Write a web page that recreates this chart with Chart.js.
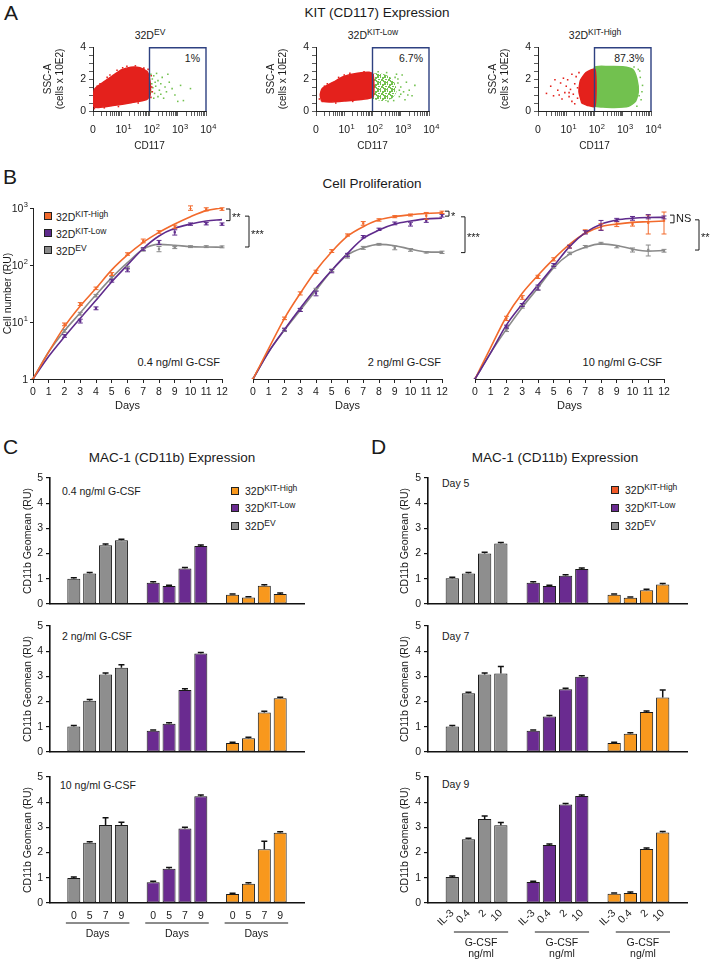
<!DOCTYPE html>
<html lang="en">
<head>
<meta charset="UTF-8">
<title>KIT expression, proliferation and MAC-1 expression</title>
<script src="https://cdn.jsdelivr.net/npm/chart.js@4"></script>
<style>
  body { margin: 0; background: #fff; font-family: Arial, "Liberation Sans", sans-serif; color: #1a1a1a; }
  #fig { position: relative; width: 713px; height: 962px; overflow: hidden; }
  canvas { position: absolute; }
  .t { position: absolute; white-space: nowrap; font-size: 10.5px; line-height: 1; }
  .c { transform: translate(-50%, -50%); }
  .lc { transform: translate(0, -50%); }
  .rc { transform: translate(-100%, -50%); }
  .letter { font-size: 21px; }
  .title { font-size: 13.5px; }
  .lg { font-size: 10.5px; }
  sup { font-size: 8.5px; vertical-align: 4px; line-height: 0; }
  .sw { position: absolute; width: 6px; height: 6px; border: 1px solid #222; }
</style>
</head>
<body>
<div id="fig">
  <!-- A -->
  <div class="t letter" style="left:4px;top:2px">A</div>
  <div class="t title c" style="left:377px;top:13px">KIT (CD117) Expression</div>
  <div class="t c" style="left:150px;top:35px">32D<sup>EV</sup></div>
  <div class="t c" style="left:373px;top:35px">32D<sup>KIT-Low</sup></div>
  <div class="t c" style="left:595px;top:35px">32D<sup>KIT-High</sup></div>
  <div class="t rc" style="left:200px;top:58px">1%</div>
  <div class="t rc" style="left:423px;top:58px">6.7%</div>
  <div class="t rc" style="left:644px;top:58px">87.3%</div>

  <!-- B -->
  <div class="t letter" style="left:3px;top:166px">B</div>
  <div class="t title c" style="left:372px;top:184px">Cell Proliferation</div>
  <div class="sw" style="left:44px;top:212px;background:#f26a2c"></div>
  <div class="sw" style="left:44px;top:229px;background:#5f2b8c"></div>
  <div class="sw" style="left:44px;top:246px;background:#8a8a8a"></div>
  <div class="t lg lc" style="left:56px;top:217px">32D<sup>KIT-High</sup></div>
  <div class="t lg lc" style="left:56px;top:234px">32D<sup>KIT-Low</sup></div>
  <div class="t lg lc" style="left:56px;top:251px">32D<sup>EV</sup></div>
  <div class="t rc" style="left:220px;top:362px;font-size:11px">0.4 ng/ml G-CSF</div>
  <div class="t rc" style="left:441px;top:362px;font-size:11px">2 ng/ml G-CSF</div>
  <div class="t rc" style="left:662px;top:362px;font-size:11px">10 ng/ml G-CSF</div>

  <!-- C -->
  <div class="t letter" style="left:3px;top:436px">C</div>
  <div class="t title c" style="left:172px;top:458px">MAC-1 (CD11b) Expression</div>
  <div class="t lc" style="left:62px;top:491px">0.4 ng/ml G-CSF</div>
  <div class="t lc" style="left:62px;top:636px">2 ng/ml G-CSF</div>
  <div class="t lc" style="left:60px;top:785px">10 ng/ml G-CSF</div>
  <div class="sw" style="left:231px;top:487px;background:#f8981d"></div>
  <div class="sw" style="left:231px;top:504px;background:#6a2b90"></div>
  <div class="sw" style="left:231px;top:522px;background:#8e8e8e"></div>
  <div class="t lg lc" style="left:245px;top:491px">32D<sup>KIT-High</sup></div>
  <div class="t lg lc" style="left:245px;top:508px">32D<sup>KIT-Low</sup></div>
  <div class="t lg lc" style="left:245px;top:526px">32D<sup>EV</sup></div>

  <!-- D -->
  <div class="t letter" style="left:371px;top:436px">D</div>
  <div class="t title c" style="left:555px;top:458px">MAC-1 (CD11b) Expression</div>
  <div class="t lc" style="left:442px;top:483px">Day 5</div>
  <div class="t lc" style="left:442px;top:636px">Day 7</div>
  <div class="t lc" style="left:442px;top:784px">Day 9</div>
  <div class="sw" style="left:611px;top:486px;background:#f15a29"></div>
  <div class="sw" style="left:611px;top:504px;background:#6a2b90"></div>
  <div class="sw" style="left:611px;top:522px;background:#8e8e8e"></div>
  <div class="t lg lc" style="left:625px;top:490px">32D<sup>KIT-High</sup></div>
  <div class="t lg lc" style="left:625px;top:508px">32D<sup>KIT-Low</sup></div>
  <div class="t lg lc" style="left:625px;top:526px">32D<sup>EV</sup></div>
</div>

<script>
// ---------- A: flow cytometry (CD117 log decades on x, SSC-A on y) ----------
const xMajor = [0, 1, 2, 3, 4];
const xTickBase = ['0', '10', '10', '10', '10'];
const xTickExp = ['', '1', '2', '3', '4'];
const yFlowLabelled = [0, 2, 4];
const gateBox = [[2, 0], [2, 3.95], [4, 3.95], [4, 0]];

// outlines of the dense clouds and the loose dots around them
const evRedCloud = [[0.03,0.25],[0.02,0.8],[0.05,1.35],[0.37,1.8],[0.69,2.2],[1.02,2.58],[1.34,2.74],[1.66,2.7],[1.92,2.45],[2.02,1.8],[2.02,1.0],[1.9,0.72],[1.35,0.52],[0.7,0.34],[0.2,0.22]];
const evRedDots = [[0.05,0.15],[0.25,1.7],[0.5,2.1],[0.85,2.55],[1.2,2.8],[1.5,2.82],[1.8,2.68],[2.06,2.2],[2.08,1.5],[2.05,0.85],[1.6,0.5],[0.9,0.28],[0.15,1.55],[2.1,1.2],[0.6,2.25],[1.05,2.7],[1.95,2.6],[0.4,0.2]];
const evGreenDots = [[2.05,2.3],[2.1,2.0],[2.08,1.7],[2.12,1.45],[2.06,1.2],[2.15,2.2],[2.2,1.8],[2.22,1.55],[2.18,1.1],[2.25,2.35],[2.3,1.9],[2.35,1.3],[2.4,1.7],[2.45,2.1],[2.3,0.9],[2.55,1.5],[2.6,1.2],[2.5,0.8],[2.7,1.8],[2.8,1.4],[2.9,1.0],[3.0,0.6],[3.2,0.65],[3.1,1.6],[3.45,1.4],[2.65,2.3],[2.15,0.8],[2.4,1.05]];

const lowRedCloud = [[0.2,0.6],[0.15,1.0],[0.22,1.4],[0.65,1.84],[0.98,2.16],[1.47,2.36],[1.88,2.42],[2.02,2.3],[2.02,0.9],[1.6,0.72],[1.0,0.62],[0.5,0.56]];
const lowRedDots = [[0.12,0.75],[0.4,1.7],[0.8,2.1],[1.2,2.35],[1.7,2.45],[2.05,1.6],[1.3,0.6],[0.7,0.5],[0.3,1.55],[1.0,2.25]];
const lowGreenCloud = [[2.0,0.75],[2.0,2.3],[2.3,2.35],[2.6,2.15],[2.8,1.7],[2.85,1.2],[2.7,0.8],[2.4,0.62]];
const lowGreenDots = [[2.9,2.0],[3.0,1.5],[2.95,0.9],[3.1,1.2],[3.2,1.8],[3.3,1.3],[3.4,0.95],[3.5,1.6],[2.85,2.3],[3.05,2.25],[2.75,0.65],[3.15,0.7],[2.9,1.75],[3.0,1.05],[2.5,2.4],[2.2,2.45],[2.55,0.6],[2.8,2.1],[3.25,1.0],[2.95,1.3]];

const highRedCloud = [[1.55,0.5],[1.45,1.2],[1.5,1.9],[1.7,2.4],[2.02,2.6],[2.02,0.3],[1.75,0.35]];
const highRedDots = [[0.3,1.1],[0.45,1.55],[0.55,0.95],[0.7,1.3],[0.8,1.75],[0.85,0.75],[0.95,1.15],[1.0,1.55],[1.05,1.95],[1.1,0.9],[1.15,1.35],[1.2,0.6],[1.25,1.05],[1.3,1.7],[1.35,2.15],[1.4,0.8],[1.4,1.45],[0.9,2.05],[0.6,1.95],[1.2,2.3],[1.45,2.4],[1.1,1.15],[0.75,1.0],[1.3,0.45]];
const highGreenCloud = [[2.0,0.3],[2.0,2.72],[2.5,2.78],[3.0,2.76],[3.35,2.6],[3.5,2.0],[3.55,1.2],[3.45,0.6],[3.2,0.3],[2.7,0.22],[2.3,0.25]];
const highGreenDots = [[3.6,2.5],[3.7,1.6],[3.65,0.7],[3.5,0.3],[3.62,2.1],[3.58,0.95],[3.4,2.75],[3.55,2.6],[3.68,1.2]];

// ---------- B: cell proliferation (RU, log) ----------
const days = ['0','1','2','3','4','5','6','7','8','9','10','11','12'];
const bYTicks = [1, 10, 100, 1000];
const bYBase = ['1', '10', '10', '10'];
const bYExp = ['', '1', '2', '3'];

const bHigh04 = [1, null, 9.1, 20.7, 39, 69.5, 156, 265, 380, 470, 1000, 950, 960];
const bLow04  = [1, null, 5.7, 10.4, 17.4, 53, 82, 191, 250, 375, 522, 530, 522];
const bEV04   = [1, null, 7, 14, 29, 60, 90, 185, 191, 202, 210, 210, 208];
const bHigh04Err = [0, null, 0.5, 1.2, 2, 4, 8, 20, 20, 30, 90, 60, 50];
const bLow04Err  = [0, null, 0.3, 0.8, 1, 3, 6, 10, 20, 40, 25, 25, 25];
const bEV04Err   = [0, null, 0.4, 0.8, 1.5, 3, 5, 10, 20, 8, 8, 8, 8];
const fitHigh04 = [1, 3.0, 8.3, 19, 39, 82, 150, 250, 374, 524, 705, 900, 1000];
const fitLow04  = [1, 2.5, 5.5, 11.6, 24, 51, 100, 195, 323, 440, 522, 590, 625];
const fitEV04   = [1, 3.0, 7, 14.5, 30, 60, 110, 190, 230, 222, 210, 207, 205];

const bHigh2 = [1, null, 11.6, 31.8, 76, 176, 336, 538, 618, 705, 754, 735, 840];
const bLow2  = [1, null, 7.4, 16.3, 31.8, 78, 150, 314, 423, 538, 522, 600, 733];
const bEV2   = [1, null, 7.2, 16.3, 37, 81, 140, 200, 231, 200, 184, 167, 167];
const bHigh2Err = [0, null, 0.6, 2, 5, 10, 15, 40, 30, 30, 30, 100, 40];
const bLow2Err  = [0, null, 0.4, 1, 3, 5, 10, 15, 20, 30, 40, 40, 40];
const bEV2Err   = [0, null, 0.4, 1, 2, 4, 8, 12, 8, 15, 10, 5, 8];
const fitHigh2 = [1, 3.45, 11.6, 31.8, 80, 171, 320, 470, 620, 705, 760, 800, 827];
const fitLow2  = [1, 3.0, 7.4, 17.4, 39, 81, 160, 293, 410, 522, 590, 645, 660];
const fitEV2   = [1, 3.0, 7.2, 16, 36, 80, 150, 200, 230, 218, 190, 170, 168];

const bHigh10 = [1, null, 11.6, 27, 62, 126, 210, 385, 470, 522, 522, 550, 600];
const bLow10  = [1, null, 8.3, 19.9, 40.5, 100, 210, 375, 505, 618, 660, 705, 685];
const bEV10   = [1, null, 7.2, 18.5, 39, 93, 160, 210, 240, 210, 184, 184, 178];
const bHigh10Err = [0, null, 1, 2, 4, 8, 12, 30, 60, 50, 40, 200, 250];
const bLow10Err  = [0, null, 0.5, 1.2, 4, 6, 12, 25, 100, 40, 50, 60, 40];
const bEV10Err   = [0, null, 0.4, 1, 3, 5, 8, 10, 10, 10, 15, 40, 10];
const fitHigh10 = [1, 3.6, 12.5, 32, 66, 128, 230, 360, 470, 522, 560, 575, 590];
const fitLow10  = [1, 2.9, 8.9, 20.6, 44.5, 96, 210, 370, 520, 618, 660, 680, 685];
const fitEV10   = [1, 2.9, 7.5, 18, 40, 90, 155, 205, 235, 220, 190, 175, 180];

// ---------- C / D: CD11b geomean (RU) ----------
const cDays = ['0', '5', '7', '9'];
const dDoses = ['IL-3', '0.4', '2', '10'];
// rows: 0.4, 2, 10 ng/ml G-CSF
const cEV   = [[1.0, 1.21, 2.33, 2.53], [1.01, 2.03, 3.08, 3.34], [0.99, 2.39, 3.1, 3.1]];
const cLow  = [[0.84, 0.71, 1.41, 2.30], [0.84, 1.12, 2.46, 3.91], [0.82, 1.36, 2.96, 4.24]];
const cHigh = [[0.37, 0.26, 0.72, 0.40], [0.36, 0.55, 1.57, 2.13], [0.36, 0.76, 2.13, 2.79]];
const cEVErr   = [[0.04, 0.04, 0.05, 0.04], [0.04, 0.05, 0.05, 0.12], [0.04, 0.04, 0.28, 0.1]];
const cLowErr  = [[0.04, 0.03, 0.04, 0.04], [0.03, 0.04, 0.05, 0.04], [0.04, 0.05, 0.05, 0.05]];
const cHighErr = [[0.03, 0.03, 0.04, 0.04], [0.03, 0.04, 0.05, 0.04], [0.03, 0.04, 0.32, 0.04]];
// rows: day 5, day 7, day 9
const dEV   = [[1.02, 1.21, 2.0, 2.4], [1.01, 2.33, 3.08, 3.12], [1.03, 2.53, 3.33, 3.09]];
const dLow  = [[0.84, 0.71, 1.12, 1.39], [0.84, 1.41, 2.49, 2.99], [0.83, 2.30, 3.91, 4.25]];
const dHigh = [[0.37, 0.25, 0.55, 0.77], [0.36, 0.72, 1.59, 2.16], [0.37, 0.40, 2.14, 2.80]];
const dEVErr   = [[0.04, 0.04, 0.05, 0.04], [0.04, 0.04, 0.05, 0.27], [0.04, 0.04, 0.12, 0.1]];
const dLowErr  = [[0.04, 0.03, 0.04, 0.04], [0.03, 0.04, 0.04, 0.04], [0.03, 0.04, 0.04, 0.04]];
const dHighErr = [[0.03, 0.03, 0.04, 0.04], [0.03, 0.04, 0.04, 0.3], [0.03, 0.04, 0.04, 0.04]];

// ---------- colours ----------
const RED = '#e4211c', GREEN = '#72c14f', NAVY = '#2e4181';
const ORANGE_LINE = '#f26a2c', PURPLE_LINE = '#5f2b8c', GREY_LINE = '#8a8a8a';
const EV_BAR = '#8e8e8e', LOW_BAR = '#6a2b90', HIGH_BAR = '#f8981d';
const FONT = 'Arial, "Liberation Sans", sans-serif';

Chart.defaults.font.family = FONT;
Chart.defaults.font.size = 10;
Chart.defaults.color = '#1a1a1a';
Chart.defaults.animation = false;
Chart.defaults.plugins.legend.display = false;
Chart.defaults.plugins.tooltip.enabled = false;

const fig = document.getElementById('fig');

// canvas placed so that its chart area lands on (l, t, w, h)
function makeCanvas(l, t, w, h, p) {
  const c = document.createElement('canvas');
  c.width = w + p.l + p.r;
  c.height = h + p.t + p.b;
  c.style.left = (l - p.l) + 'px';
  c.style.top = (t - p.t) + 'px';
  fig.appendChild(c);
  return c;
}
function zeroPad(s) { s.paddingTop = 0; s.paddingBottom = 0; s.paddingLeft = 0; s.paddingRight = 0; }
function fitW(w) { return s => { s.width = w; zeroPad(s); }; }
function fitH(h) { return s => { s.height = h; zeroPad(s); }; }
function xy(arr) { return arr.map(p => ({ x: p[0], y: p[1] })); }

// speckled fill for the looser green population
function speckle(color) {
  const pc = document.createElement('canvas');
  pc.width = 7; pc.height = 7;
  const g = pc.getContext('2d');
  g.fillStyle = color;
  [[0, 0, 2, 2], [3, 0, 1, 2], [5, 1, 2, 2], [1, 3, 2, 1], [4, 3, 2, 2], [0, 5, 2, 2], [3, 5, 1, 1], [6, 4, 1, 2], [2, 6, 2, 1]]
    .forEach(([x, y, w, h]) => g.fillRect(x, y, w, h));
  return g.createPattern(pc, 'repeat');
}

// error bars from dataset.err
const errorBars = {
  id: 'errorBars',
  afterDatasetsDraw(chart) {
    const ctx = chart.ctx;
    chart.data.datasets.forEach((ds, i) => {
      if (!ds.err) return;
      const meta = chart.getDatasetMeta(i);
      const ys = chart.scales[meta.yAxisID];
      ctx.save();
      ctx.strokeStyle = ds.errColor;
      ctx.lineWidth = ds.errWidth || 1;
      meta.data.forEach((el, j) => {
        const v = ds.data[j], e = ds.err[j];
        if (v == null || !e) return;
        const top = ys.getPixelForValue(v + e);
        const bot = ds.errBoth ? ys.getPixelForValue(Math.max(v - e, v * 0.2)) : el.y;
        const cw = ds.capW;
        ctx.beginPath();
        ctx.moveTo(el.x, bot); ctx.lineTo(el.x, top);
        ctx.moveTo(el.x - cw, top); ctx.lineTo(el.x + cw, top);
        if (ds.errBoth) { ctx.moveTo(el.x - cw, bot); ctx.lineTo(el.x + cw, bot); }
        ctx.stroke();
      });
      ctx.restore();
    });
  }
};

// "10" with a raised exponent as tick labels
function powerLabelsFor(o) {
  return {
    id: 'powerLabels',
    afterDraw(chart) {
      const s = chart.scales[o.axis], ctx = chart.ctx, a = chart.chartArea;
      ctx.save();
      ctx.fillStyle = '#1a1a1a';
      ctx.textAlign = 'left';
      ctx.textBaseline = 'alphabetic';
      o.values.forEach((v, i) => {
        const base = o.base[i], exp = o.exp[i];
        ctx.font = o.size + 'px ' + FONT;
        const bw = ctx.measureText(base).width;
        ctx.font = o.expSize + 'px ' + FONT;
        const ew = exp ? ctx.measureText(exp).width + 0.5 : 0;
        let x, y;
        if (o.axis === 'x') { x = s.getPixelForValue(v) - bw / 2; y = a.bottom + o.offset; }
        else { x = a.left - o.offset - bw - ew; y = s.getPixelForValue(v) + o.size * 0.36; }
        ctx.font = o.size + 'px ' + FONT;
        ctx.fillText(base, x, y);
        if (exp) { ctx.font = o.expSize + 'px ' + FONT; ctx.fillText(exp, x + bw + 0.5, y - o.size * 0.42); }
      });
      ctx.restore();
    }
  };
}

function bracketsFor(items) {
  return {
    id: 'brackets',
    afterDraw(chart) {
      const y = chart.scales.y, ctx = chart.ctx, r = chart.chartArea.right;
      ctx.save();
      ctx.strokeStyle = '#1a1a1a'; ctx.fillStyle = '#1a1a1a'; ctx.lineWidth = 1;
      ctx.font = '11px ' + FONT;
      ctx.textBaseline = 'middle';
      items.forEach(b => {
        const x = r + b.dx, y1 = y.getPixelForValue(b.from), y2 = y.getPixelForValue(b.to);
        ctx.beginPath();
        ctx.moveTo(x - 4, y1); ctx.lineTo(x, y1); ctx.lineTo(x, y2); ctx.lineTo(x - 4, y2);
        ctx.stroke();
        ctx.fillText(b.label, x + 2, (y1 + y2) / 2 + (b.label.includes('*') ? 3 : 0));
      });
      ctx.restore();
    }
  };
}

function groupLinesFor(o) {
  return {
    id: 'groupLines',
    afterDraw(chart) {
      const xs = chart.scales.x, ctx = chart.ctx, b = chart.chartArea.bottom;
      const step = xs.getPixelForValue(1) - xs.getPixelForValue(0);
      ctx.save();
      ctx.strokeStyle = '#1a1a1a'; ctx.fillStyle = '#1a1a1a'; ctx.lineWidth = 1.2;
      ctx.font = '10.5px ' + FONT;
      ctx.textAlign = 'center'; ctx.textBaseline = 'middle';
      o.groups.forEach(([a, z]) => {
        const x1 = xs.getPixelForValue(a) - o.left * step, x2 = xs.getPixelForValue(z) + o.right * step;
        ctx.beginPath(); ctx.moveTo(x1, b + o.lineY); ctx.lineTo(x2, b + o.lineY); ctx.stroke();
        o.text.forEach((t, k) => ctx.fillText(t, (x1 + x2) / 2, b + o.textY[k]));
      });
      ctx.restore();
    }
  };
}

// ---------- A ----------
const flowXTicks = [];
for (let d = 0; d < 4; d++) { flowXTicks.push(d); for (let k = 2; k < 10; k++) flowXTicks.push(d + Math.log10(k)); }
flowXTicks.push(4);

function flowPlot(axisX, clouds, dots) {
  const p = { l: 51, t: 6, r: 14, b: 41 };
  const c = makeCanvas(axisX, 47, 113, 64, p);
  const datasets = [];
  clouds.forEach(([pts, col, loose]) => datasets.push({
    type: 'line', data: xy(pts.concat([pts[0]])), fill: 'shape',
    backgroundColor: loose ? speckle(col) : col, borderColor: col,
    borderWidth: loose ? 0 : 1.5, pointRadius: 0, tension: 0.2, order: 3
  }));
  dots.forEach(([pts, col]) => datasets.push({
    type: 'scatter', data: xy(pts), backgroundColor: col, borderWidth: 0, pointRadius: 1.1, pointStyle: 'rect', order: 2
  }));
  datasets.push({
    type: 'line', data: xy(gateBox), borderColor: NAVY, borderWidth: 1.4, fill: false,
    pointRadius: 0, tension: 0, clip: false, order: 0
  });
  new Chart(c, {
    type: 'scatter',
    data: { datasets },
    options: {
      responsive: false,
      layout: { padding: { left: 0, top: p.t, right: p.r, bottom: 0 } },
      scales: {
        x: {
          type: 'linear', min: 0, max: 4,
          afterBuildTicks: s => { s.ticks = flowXTicks.map(v => ({ value: v })); },
          afterFit: fitH(p.b),
          ticks: { autoSkip: false, maxRotation: 0, callback: () => '' },
          grid: { drawOnChartArea: false, tickLength: 5, color: '#333', lineWidth: 0.8 },
          border: { color: '#222', width: 1 },
          title: { display: true, text: 'CD117', padding: { top: 0, bottom: 0 }, font: { size: 10 } }
        },
        y: {
          min: 0, max: 4,
          ticks: {
            stepSize: 0.5, autoSkip: false, padding: 3, font: { size: 10.5 },
            callback: v => yFlowLabelled.includes(v) ? String(v) : ''
          },
          afterFit: fitW(p.l),
          grid: { drawOnChartArea: false, tickLength: 4, color: '#333', lineWidth: 0.8 },
          border: { color: '#222', width: 1 },
          title: { display: true, text: ['SSC-A', '(cells x 10E2)'], padding: { top: 0, bottom: 0 }, font: { size: 10 } }
        }
      }
    },
    plugins: [powerLabelsFor({ axis: 'x', values: xMajor, base: xTickBase, exp: xTickExp, size: 10.5, expSize: 7.5, offset: 22 })]
  });
}

flowPlot(93, [[evRedCloud, RED]], [[evRedDots, RED], [evGreenDots, GREEN]]);
flowPlot(316, [[lowRedCloud, RED], [lowGreenCloud, GREEN, true]], [[lowRedDots, RED], [lowGreenDots, GREEN]]);
flowPlot(538, [[highRedCloud, RED], [highGreenCloud, GREEN]], [[highRedDots, RED], [highGreenDots, GREEN]]);

// ---------- B ----------
function growthPlot(left, showY, series, brackets) {
  const p = { l: showY ? 31 : 12, t: 10, r: 50, b: 34 };
  const c = makeCanvas(left, 208, 189, 171, p);
  const datasets = [];
  series.forEach((s, k) => {
    datasets.push({
      data: s.fit, borderColor: s.color, borderWidth: 1.6, pointRadius: 0,
      cubicInterpolationMode: 'monotone', fill: false, order: 10 - k
    });
    datasets.push({
      data: s.pts, showLine: false, pointStyle: 'rect', pointRadius: 1.6,
      backgroundColor: s.color, borderColor: s.color, borderWidth: 0,
      err: s.err, errBoth: true, errColor: s.color, capW: 2.5, order: 5 - k
    });
  });
  const plugins = [errorBars, bracketsFor(brackets)];
  if (showY) plugins.push(powerLabelsFor({ axis: 'y', values: bYTicks, base: bYBase, exp: bYExp, size: 10.5, expSize: 7.5, offset: 5 }));
  new Chart(c, {
    type: 'line',
    data: { labels: days, datasets },
    options: {
      responsive: false,
      layout: { padding: { left: showY ? 0 : p.l, top: p.t, right: p.r, bottom: 0 } },
      scales: {
        x: {
          afterFit: fitH(p.b),
          ticks: { autoSkip: false, maxRotation: 0, padding: 3, font: { size: 10.5 } },
          grid: { drawOnChartArea: false, tickLength: 4, color: '#222' },
          border: { color: '#222', width: 1 },
          title: { display: true, text: 'Days', padding: { top: 0, bottom: 0 }, font: { size: 11 } }
        },
        y: {
          type: 'logarithmic', min: 1, max: 1000, display: showY,
          afterBuildTicks: s => { s.ticks = bYTicks.map(v => ({ value: v })); },
          afterFit: showY ? fitW(p.l) : undefined,
          ticks: { padding: 2, callback: () => '' },
          grid: { drawOnChartArea: false, tickLength: 3, color: '#222' },
          border: { color: '#222', width: 1 },
          title: { display: true, text: 'Cell number (RU)', padding: { top: 0, bottom: 0 }, font: { size: 10.5 } }
        }
      }
    },
    plugins
  });
}

growthPlot(33, true, [
  { fit: fitEV04, pts: bEV04, err: bEV04Err, color: GREY_LINE },
  { fit: fitLow04, pts: bLow04, err: bLow04Err, color: PURPLE_LINE },
  { fit: fitHigh04, pts: bHigh04, err: bHigh04Err, color: ORANGE_LINE }
], [{ from: 960, to: 600, dx: 8, label: '**' }, { from: 720, to: 207, dx: 27, label: '***' }]);

growthPlot(253, false, [
  { fit: fitEV2, pts: bEV2, err: bEV2Err, color: GREY_LINE },
  { fit: fitLow2, pts: bLow2, err: bLow2Err, color: PURPLE_LINE },
  { fit: fitHigh2, pts: bHigh2, err: bHigh2Err, color: ORANGE_LINE }
], [{ from: 880, to: 720, dx: 7, label: '*' }, { from: 700, to: 165, dx: 23, label: '***' }]);

growthPlot(475, false, [
  { fit: fitEV10, pts: bEV10, err: bEV10Err, color: GREY_LINE },
  { fit: fitHigh10, pts: bHigh10, err: bHigh10Err, color: ORANGE_LINE },
  { fit: fitLow10, pts: bLow10, err: bLow10Err, color: PURPLE_LINE }
], [{ from: 750, to: 550, dx: 10, label: 'NS' }, { from: 620, to: 183, dx: 35, label: '**' }]);

// ---------- C / D ----------
const groupSlots = [[1, 2, 3, 4], [6, 7, 8, 9], [11, 12, 13, 14]];
function toSlots(vals, g) {
  const a = new Array(16).fill(null);
  groupSlots[g].forEach((s, k) => { a[s] = vals[k]; });
  return a;
}

function barPlot(left, width, top, yPad, vals, errs, tickNames, bottom) {
  const p = { l: yPad, t: 6, r: 8, b: bottom ? bottom.height : 4 };
  const c = makeCanvas(left, top, width, 126, p);
  const labels = new Array(16).fill('');
  groupSlots.forEach(g => g.forEach((s, k) => { labels[s] = tickNames[k]; }));
  const cols = [EV_BAR, LOW_BAR, HIGH_BAR];
  const datasets = vals.map((v, g) => ({
    data: toSlots(v, g), err: toSlots(errs[g], g), errColor: '#111', errWidth: 1.5, capW: 3,
    backgroundColor: cols[g], borderColor: '#1a1a1a', borderWidth: 1, borderSkipped: false,
    grouped: false, barPercentage: 0.82, categoryPercentage: 1
  }));
  const plugins = [errorBars];
  if (bottom) plugins.push(groupLinesFor(bottom.groups));
  new Chart(c, {
    type: 'bar',
    data: { labels, datasets },
    options: {
      responsive: false,
      layout: { padding: { left: 0, top: p.t, right: p.r, bottom: 0 } },
      scales: {
        x: {
          afterFit: fitH(p.b),
          ticks: {
            display: !!bottom, autoSkip: false, padding: bottom ? bottom.pad : 0,
            maxRotation: bottom && bottom.rotate ? 45 : 0, minRotation: bottom && bottom.rotate ? 45 : 0,
            font: { size: 10.5 }
          },
          grid: { display: false, drawTicks: false },
          border: { color: '#111', width: 1.6 }
        },
        y: {
          min: 0, max: 5,
          afterFit: fitW(p.l),
          ticks: { stepSize: 1, padding: 3, font: { size: 10.5 } },
          grid: { drawOnChartArea: false, tickLength: 4, color: '#111', lineWidth: 1.2 },
          border: { color: '#111', width: 1.6 },
          title: { display: true, text: 'CD11b Geomean (RU)', padding: { top: 0, bottom: 0 }, font: { size: 10.5 } }
        }
      }
    },
    plugins
  });
}

const rowTops = [478, 626, 777];
const cBottom = {
  height: 40, pad: 7, rotate: false,
  groups: { groups: [[1, 4], [6, 9], [11, 14]], left: 0.5, right: 0.5, lineY: 20, text: ['Days'], textY: [31] }
};
const dBottom = {
  height: 58, pad: 4, rotate: true,
  groups: { groups: [[2, 4], [7, 9], [12, 14]], left: 0.9, right: 0.45, lineY: 29, text: ['G-CSF', 'ng/ml'], textY: [40, 51] }
};
for (let r = 0; r < 3; r++) {
  barPlot(50, 254, rowTops[r], 28, [cEV[r], cLow[r], cHigh[r]], [cEVErr[r], cLowErr[r], cHighErr[r]], cDays, r === 2 ? cBottom : null);
  barPlot(428, 259, rowTops[r], 29, [dEV[r], dLow[r], dHigh[r]], [dEVErr[r], dLowErr[r], dHighErr[r]], dDoses, r === 2 ? dBottom : null);
}
</script>
</body>
</html>
